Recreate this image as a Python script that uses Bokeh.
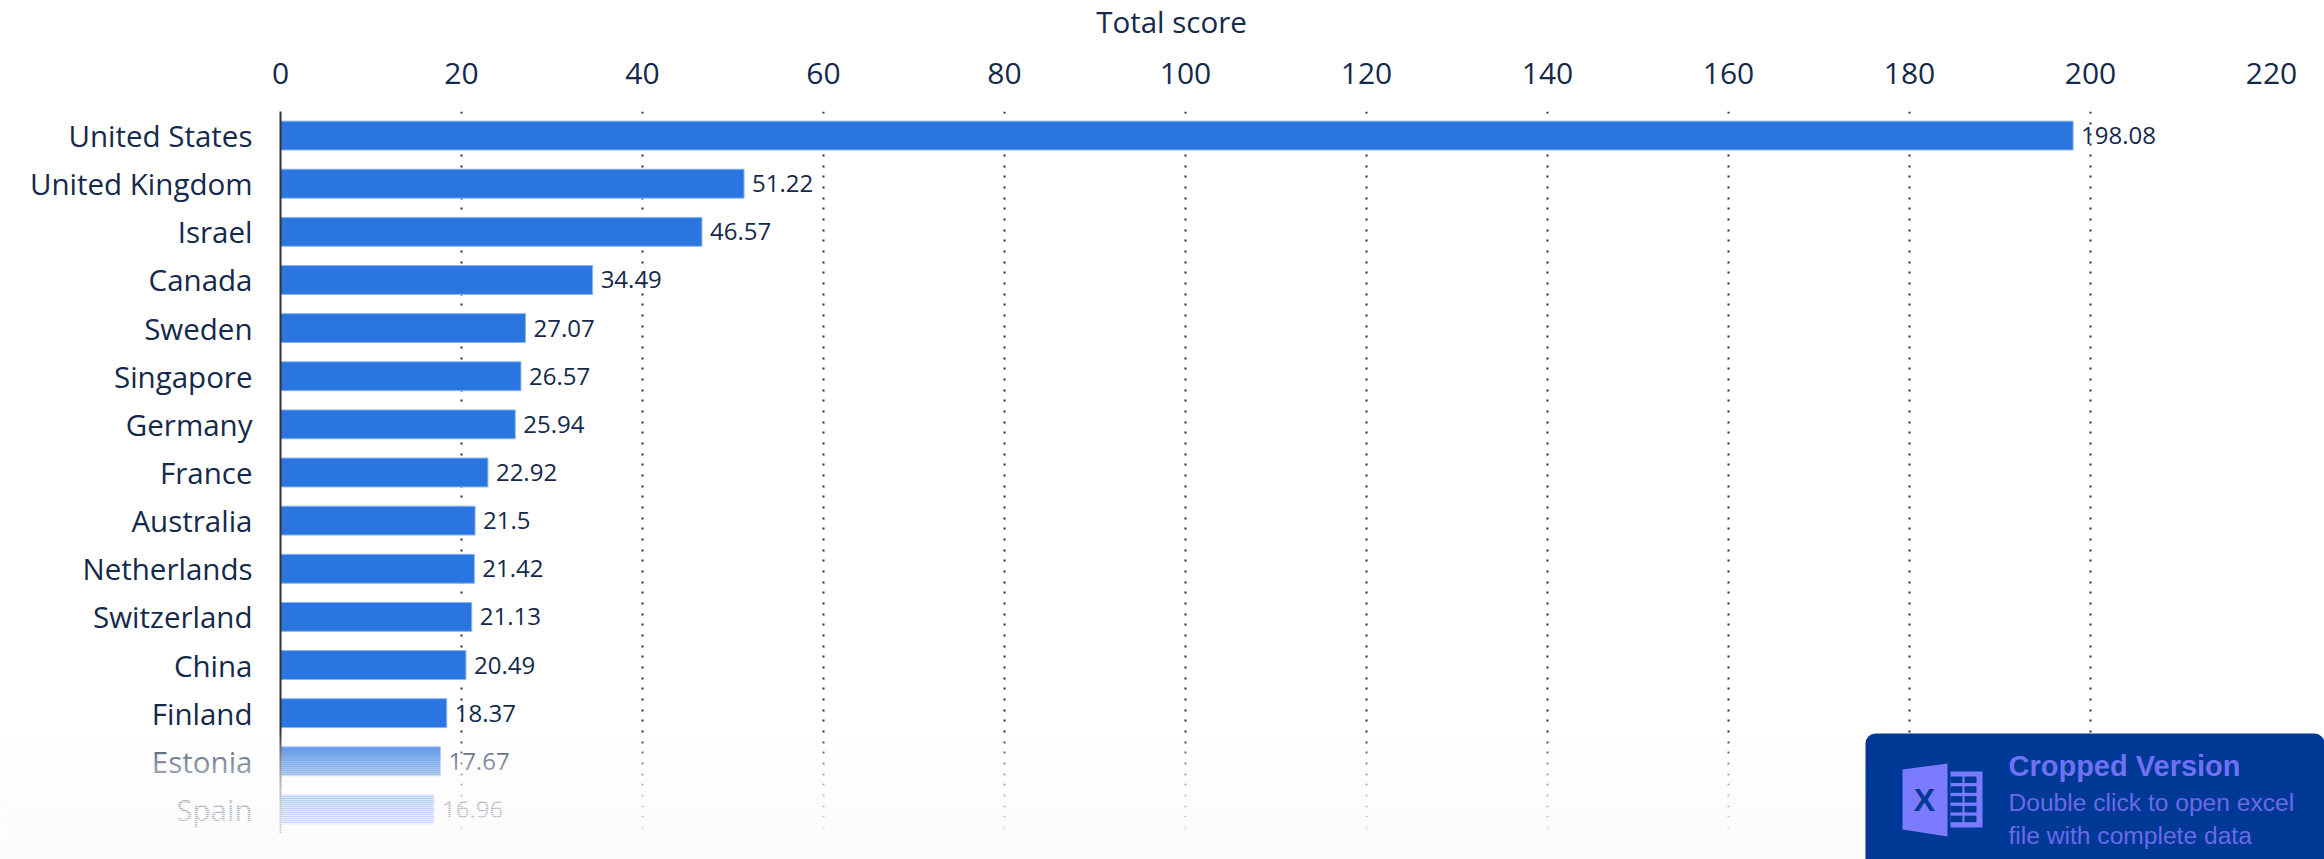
import numpy as np
from bokeh.plotting import figure
from bokeh.layouts import column
from bokeh.models import FactorRange, Range1d, FixedTicker, ColumnDataSource
from bokeh.core.properties import value as _v
from bokeh.embed import file_html
from bokeh.resources import INLINE

countries = ["United States", "United Kingdom", "Israel", "Canada", "Sweden", "Singapore",
             "Germany", "France", "Australia", "Netherlands", "Switzerland", "China",
             "Finland", "Estonia", "Spain"]
scores = [198.08, 51.22, 46.57, 34.49, 27.07, 26.57, 25.94, 22.92, 21.5, 21.42, 21.13,
          20.49, 18.37, 17.67, 16.96]
labels = ["198.08", "51.22", "46.57", "34.49", "27.07", "26.57", "25.94", "22.92", "21.5",
          "21.42", "21.13", "20.49", "18.37", "17.67", "16.96"]
x_ticks = list(range(0, 221, 20))

INK = "#14294b"
FONT = "Open Sans"
W, H = 2324, 859
FL, FR, FT, FB = 280, 2271, 111, 833  # frame in window pixels

p = figure(width=W, height=H, output_backend="svg", toolbar_location=None,
           x_range=Range1d(0, 220), y_range=FactorRange(factors=countries[::-1], range_padding=0),
           x_axis_location="above", min_border_left=FL, min_border_right=W - FR,
           min_border_top=FT, min_border_bottom=H - FB, frame_align=False)
p.outline_line_color = None
p.background_fill_color = "white"
p.ygrid.grid_line_color = None
p.xgrid.ticker = FixedTicker(ticks=x_ticks)
p.xgrid.grid_line_color = "#2a2a2a"
p.xgrid.grid_line_width = 2
p.xgrid.grid_line_dash = "2 9 2 9 2 8"
p.xgrid.grid_line_dash_offset = 6

ax = p.xaxis[0]
ax.ticker = FixedTicker(ticks=x_ticks)
ax.axis_line_color = None
ax.major_tick_line_color = None
ax.minor_tick_line_color = None
ax.major_label_text_font = FONT
ax.major_label_text_font_size = "30px"
ax.major_label_text_color = INK
ax.major_label_standoff = 22

ay = p.yaxis[0]
ay.axis_line_color = "#333333"
ay.axis_line_width = 2
ay.major_tick_line_color = None
ay.minor_tick_line_color = None
ay.major_label_text_font = FONT
ay.major_label_text_font_size = "29.5px"
ay.major_label_text_color = INK
ay.major_label_standoff = 22

src = ColumnDataSource(dict(c=countries, s=scores, t=labels))
p.hbar(y="c", left=0, right="s", height=0.6, source=src, fill_color="#2a75df",
       line_color="#8ab5ee", line_width=1)
p.text(x="s", y="c", text="t", source=src, x_offset=8, text_baseline="middle",
       text_font=_v(FONT), text_font_size="24px", text_color=INK)

# transparent full-window layer: axis title, bottom fade, watermark (window pixel coordinates)
q = figure(width=W, height=H, output_backend="svg", toolbar_location=None,
           x_range=Range1d(0, W), y_range=Range1d(H, 0), x_axis_type=None, y_axis_type=None,
           min_border=0, margin=(-H, 0, 0, 0), frame_align=False)
q.outline_line_color = None
q.background_fill_alpha = 0
q.border_fill_alpha = 0
q.grid.visible = False


def label(x, y, text, size, color, style="normal", font="Liberation Sans", align="left"):
    q.text([x], [y], text=[text], text_font=_v(font), text_font_size=size, text_color=color,
           text_font_style=style, text_align=align, text_baseline="middle")


def box(l, r, t, b, color, alpha=1.0):
    q.quad(left=l, right=r, top=t, bottom=b, fill_color=color, fill_alpha=alpha, line_alpha=0)


label(1171, 21, "Total score", "29.5px", INK, font=FONT, align="center")

# bottom fade
fade_y = [730, 747, 761, 775, 795, 809, 824, 838]
fade_a = [0, 0.28, 0.5, 0.66, 0.82, 0.9, 0.95, 1.0]
tops = np.arange(726, H, 2)
box(0, W, tops, tops + 2, "#fcfcfc", alpha=np.interp(tops + 1, fade_y, fade_a))

# watermark
NAVY, LAV = "#003896", "#7b7bff"
q.quad(left=1865, right=W, top=733, bottom=H, fill_color=NAVY, line_alpha=0,
       border_radius=(10, 10, 0, 0))
q.patch([1902, 1947, 1947, 1902], [769, 763, 836, 829], fill_color=LAV, line_alpha=0)
box(1950, 1982, 771, 827, LAV)
for r in range(5):
    t = 776 + r * 9.8
    box(1950, 1962, t, t + 6.5, NAVY)
    box(1964, 1976, t, t + 6.5, NAVY)
label(1924, 799, "X", "32px", NAVY, style="bold", align="center")
label(2008, 765, "Cropped Version", "29px", "#7070f5", style="bold")
label(2008, 802, "Double click to open excel", "24.6px", "#6a6ae8")
label(2008, 835, "file with complete data", "24.6px", "#6a6ae8")

open("out.html", "w").write(file_html(column(p, q, spacing=0), INLINE))
